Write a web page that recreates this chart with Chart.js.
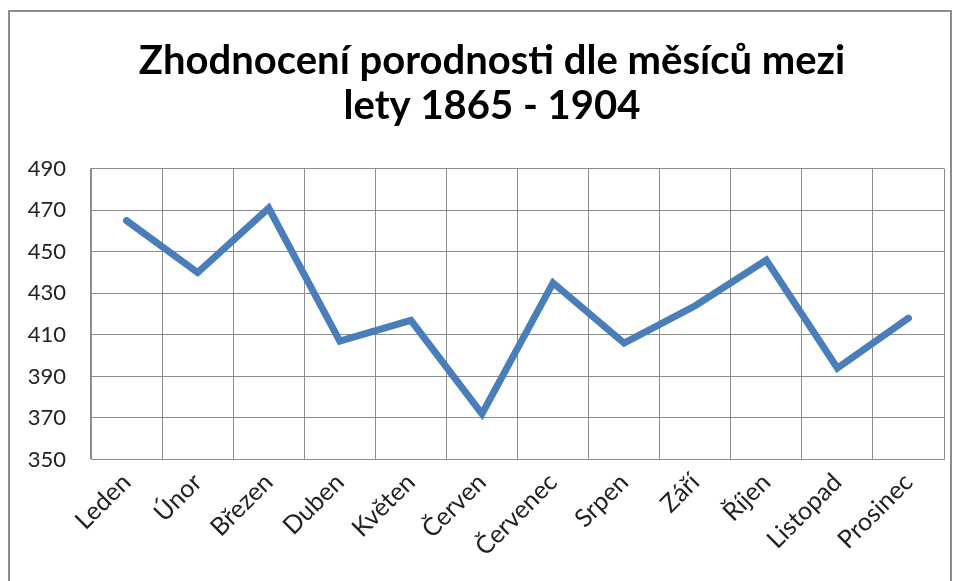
<!DOCTYPE html>
<html>
<head>
<meta charset="utf-8">
<script src="https://cdn.jsdelivr.net/npm/chart.js@4"></script>
<style>
  html, body { margin: 0; padding: 0; background: #fff; }
  #wrap { position: relative; width: 960px; height: 581px; }
  #frame { position: absolute; left: 8px; top: 10px; width: 944px; height: 600px;
           border: 2px solid #8c8c8c; box-sizing: border-box; pointer-events: none; }
</style>
</head>
<body>
<div id="wrap">
  <canvas id="birthChart" width="960" height="581"></canvas>
  <div id="frame"></div>
</div>
<script>
// data
const months = ['Leden', 'Únor', 'Březen', 'Duben', 'Květen', 'Červen',
  'Červenec', 'Srpen', 'Září', 'Říjen', 'Listopad', 'Prosinec'];
const births = [465, 440, 471, 407, 417, 372, 435, 406, 424, 446, 394, 418];
const titleLines = ['Zhodnocení porodnosti dle měsíců mezi', 'lety 1865 - 1904'];

// nudge the title a bit right, like in the original
const titleShift = {
  id: 'titleShift',
  afterLayout(chart) {
    if (chart.titleBlock) {
      chart.titleBlock.left += 15;
      chart.titleBlock.right += 15;
    }
  }
};

const ctx = document.getElementById('birthChart').getContext('2d');
const birthChart = new Chart(ctx, {
  type: 'line',
  data: {
    labels: months,
    datasets: [{
      data: births,
      borderColor: '#4a7ebb',
      borderWidth: 7,
      pointRadius: 0,
      tension: 0,
      borderCapStyle: 'round',
      borderJoinStyle: 'miter',
      fill: false
    }]
  },
  options: {
    responsive: false,
    animation: false,
    layout: { padding: { left: 10, right: 16, top: 14, bottom: 11 } },
    plugins: {
      legend: { display: false },
      tooltip: { enabled: false },
      title: {
        display: true,
        text: titleLines,
        color: '#000',
        font: { family: 'Lato', size: 40, weight: 'bold', lineHeight: 1.12 },
        padding: { top: 25, bottom: 40 }
      }
    },
    scales: {
      x: {
        offset: true,
        grid: { color: '#8c8c8c', lineWidth: 1, offset: true, drawTicks: false },
        border: { color: '#8c8c8c' },
        ticks: {
          color: '#222',
          font: { family: 'Lato', size: 25 },
          maxRotation: 45,
          minRotation: 45,
          padding: 8,
          autoSkip: false
        }
      },
      y: {
        min: 350,
        max: 490,
        grid: { color: '#8c8c8c', lineWidth: 1, drawTicks: false },
        border: { color: '#8c8c8c' },
        afterFit: (scale) => { scale.width = 81; },
        ticks: {
          stepSize: 20,
          color: '#222',
          font: { family: 'Lato', size: 22 },
          padding: 25
        }
      }
    }
  },
  plugins: [titleShift]
});
</script>
</body>
</html>
